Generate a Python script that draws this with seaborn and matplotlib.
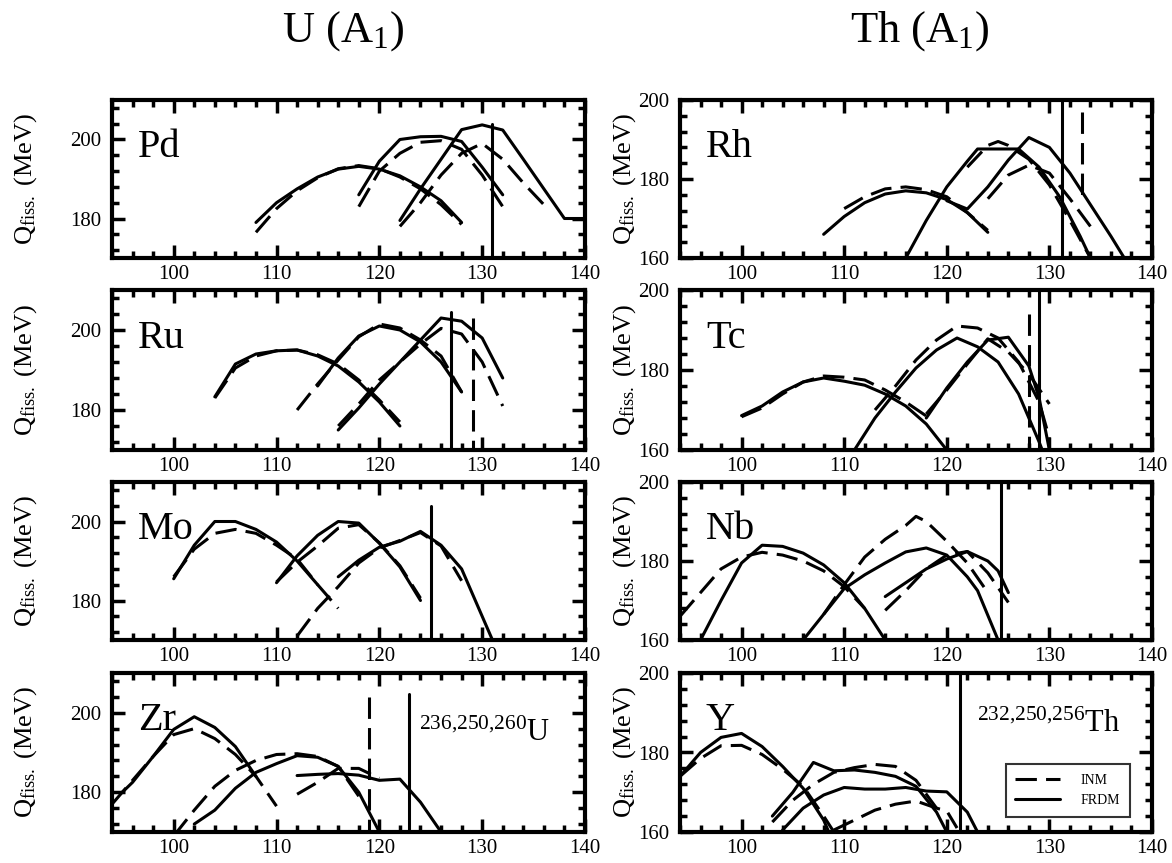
import matplotlib
matplotlib.use("Agg")
import matplotlib.pyplot as plt
from matplotlib.ticker import MultipleLocator
from matplotlib.lines import Line2D
import seaborn as sns
import pandas as pd

sns.set_style("ticks")
plt.rcParams["font.family"] = ["Liberation Serif", "DejaVu Serif"]
plt.rcParams["mathtext.fontset"] = "custom"
plt.rcParams["mathtext.rm"] = "Liberation Serif"
plt.rcParams["mathtext.it"] = "Liberation Serif:italic"
for key in ["text.color", "axes.edgecolor", "axes.labelcolor", "xtick.color", "ytick.color"]:
    plt.rcParams[key] = "black"

# -------------------------------
# DATA  (A_1, Q_fiss in MeV), three parent isotopes per panel
# -------------------------------

PD_INM = [
    [(108, 176.5), (110, 182.5), (112, 187), (114, 190.3), (116, 192.6), (118, 193.4),
     (120, 192.6), (122, 190.5), (124, 187.5), (126, 183.5), (128, 178.5)],
    [(118, 183), (120, 192), (122, 196.5), (124, 199.3), (126, 199.7), (128, 197.5),
     (130, 191), (132, 183)],
    [(122, 178), (124, 184), (126, 191), (128, 196.5), (130, 199), (132, 195),
     (134, 189), (136, 183.5)],
]
PD_FRDM = [
    [(108, 179), (110, 184), (112, 187.5), (114, 190.5), (116, 192.5), (118, 193.2),
     (120, 192.5), (122, 190.8), (124, 188), (126, 184.5), (128, 179)],
    [(118, 186), (120, 194.5), (122, 200), (124, 200.7), (126, 200.8), (128, 199.5),
     (130, 193), (132, 186)],
    [(122, 179.5), (124, 187.5), (126, 195), (128, 202.5), (130, 203.7), (132, 202.4),
     (134, 195), (136, 187.5), (138, 180), (140, 180)],
]
PD_VLINES = [(131, 204, 170, "FRDM")]

RH_INM = [
    [(110, 172.5), (112, 175.5), (114, 177.5), (116, 178), (118, 177.3), (120, 175.5),
     (122, 171.5), (124, 167)],
    [(122, 183), (124, 188.5), (125, 189.5), (126, 188.5), (128, 185), (130, 178.5),
     (132, 169.5), (134, 160)],
    [(124, 175), (126, 181), (128, 183.5), (130, 181.5), (132, 175), (134, 168)],
]
RH_FRDM = [
    [(108, 166), (110, 170.5), (112, 174), (114, 176.2), (116, 177), (118, 176.5),
     (120, 174.8), (122, 171.5), (124, 166.5)],
    [(116, 160), (118, 169.5), (120, 178), (122, 184.5), (123, 187.6), (127, 187.6),
     (129, 183), (131, 175.5), (133, 165.5), (134, 160)],
    [(120, 174.5), (122, 172.4), (124, 178), (126, 184.8), (128, 190.5), (130, 188),
     (132, 181.5), (134, 173.5), (136, 165.5), (137.3, 160)],
]
RH_VLINES = [(131.2, 200, 160, "FRDM"), (133.2, 197, 175, "INM")]

RU_INM = [
    [(104, 183), (106, 190.5), (108, 193.5), (110, 194.8), (112, 195), (114, 193.8),
     (116, 191.5), (118, 187.5), (120, 182.5), (122, 177)],
    [(112, 180), (114, 186.5), (116, 192.5), (118, 198.3), (120, 201.5), (122, 200.5),
     (124, 197.5), (126, 193.5), (128, 184.5)],
    [(116, 176), (118, 181.5), (120, 187.5), (122, 192), (124, 196.5), (126, 200.4),
     (128, 199), (130, 192), (132, 181)],
]
RU_FRDM = [
    [(104, 183.3), (106, 191.5), (108, 194), (110, 194.8), (112, 195), (114, 193.5),
     (116, 191), (118, 187), (120, 182), (122, 176)],
    [(114, 186), (116, 193), (118, 198.5), (120, 201), (122, 200), (124, 197),
     (126, 192), (128, 184.5)],
    [(116, 175), (118, 180.5), (120, 186.5), (122, 192), (124, 197.5), (126, 203),
     (128, 202.2), (130, 198), (132, 188)],
]
RU_VLINES = [(127, 204.5, 170, "FRDM"), (129.1, 203, 170, "INM")]

TC_INM = [
    [(100, 168.3), (102, 170.5), (104, 174), (106, 177), (108, 178.5), (110, 178.2),
     (112, 177.5), (114, 175), (116, 172), (118, 168.5)],
    [(113, 170), (115, 176), (117, 182.5), (119, 187.5), (121, 191), (123, 190.5),
     (125, 188), (127, 182), (129, 172), (130, 163)],
    [(118, 169), (120, 175), (122, 181.5), (124, 187.8), (126, 184.5), (128, 179),
     (130, 171.5)],
]
TC_FRDM = [
    [(100, 168.6), (102, 171), (104, 174.5), (106, 177), (108, 178), (110, 177.2),
     (112, 176.2), (114, 174), (116, 171), (118, 166.5), (120, 160)],
    [(111, 160), (113, 168), (115, 174.5), (117, 180.5), (119, 185), (121, 188),
     (123, 185.8), (125, 182), (127, 174), (129, 162), (129.3, 160)],
    [(118, 168), (120, 175.5), (122, 182), (124, 187.5), (126, 188.2), (128, 181),
     (129, 173), (130, 160)],
]
TC_VLINES = [(128, 194, 160, "INM"), (129, 200, 160, "FRDM")]

MO_INM = [
    [(100, 186), (102, 193), (104, 197), (106, 198), (108, 197), (110, 194),
     (112, 190.5), (114, 184), (116, 178)],
    [(110, 184.7), (112, 189.7), (114, 193.8), (116, 198.3), (118, 199.2), (120, 194.6),
     (122, 188.8), (124, 180.6)],
    [(112, 171), (114, 178), (116, 183.5), (118, 189.5), (120, 193.3), (122, 195.2),
     (124, 197.2), (126, 193.8), (128, 185)],
]
MO_FRDM = [
    [(100, 185.5), (102, 194), (104, 200), (106, 200), (108, 198), (110, 194.8),
     (112, 190), (114, 184)],
    [(110, 184.5), (112, 191.3), (114, 196.5), (116, 200), (118, 199.6), (120, 194.5),
     (122, 188.5), (124, 180)],
    [(116, 186), (118, 190.2), (120, 193.5), (122, 195), (124, 197.5), (126, 194),
     (128, 188), (130, 176), (131, 170)],
]
MO_VLINES = [(125, 204, 170, "FRDM")]

NB_INM = [
    [(94, 166), (96, 172), (98, 178), (100, 181), (102, 182.2), (104, 181.5),
     (106, 180), (108, 177.5), (110, 173.5), (112, 168)],
    [(108, 166.5), (110, 174), (112, 181), (114, 185.5), (116, 189), (117, 191.3),
     (118, 190), (120, 185), (122, 179.5), (124, 172)],
    [(114, 167.5), (116, 172.5), (118, 178), (120, 181.5), (122, 182.4), (124, 177),
     (126, 169.5)],
]
NB_FRDM = [
    [(96, 160), (98, 170), (100, 179.5), (102, 184), (104, 183.7), (106, 182),
     (108, 179), (110, 174.5), (112, 168), (114, 160)],
    [(106, 160), (108, 166.5), (110, 173), (112, 176.5), (114, 179.5), (116, 182.3),
     (118, 183.3), (120, 181.5), (122, 176), (123, 172.5), (125, 160)],
    [(114, 171), (116, 174.5), (118, 178), (120, 180.5), (122, 182.4), (124, 180),
     (125, 177.5), (126, 172)],
]
NB_VLINES = [(125.3, 200, 160, "FRDM")]

ZR_INM = [
    [(94, 177), (96, 183), (98, 189), (100, 194.5), (102, 196), (104, 193.5),
     (106, 189.5), (108, 184), (110, 176.5)],
    [(100, 169), (102, 175.5), (104, 181.5), (106, 185.5), (108, 188), (110, 189.5),
     (112, 189.7), (114, 189), (116, 186.5), (118, 179)],
    [(112, 179.5), (114, 182.5), (116, 186), (118, 186), (120, 183.5)],
]
ZR_FRDM = [
    [(95, 180), (96, 182.5), (98, 189), (100, 195.8), (102, 199), (104, 196.3),
     (106, 191.5), (108, 184)],
    [(102, 172), (104, 175.5), (106, 181), (108, 185), (110, 187.2), (112, 189.2),
     (114, 188.8), (116, 186.5), (118, 180), (120, 170)],
    [(112, 184.2), (114, 184.5), (116, 184.7), (118, 184.3), (120, 183), (122, 183.3),
     (124, 177.5), (126, 170)],
]
ZR_VLINES = [(119, 204, 170, "INM"), (122.9, 204.6, 170, "FRDM")]

Y_INM = [
    [(94, 174), (96, 178.5), (98, 181.7), (100, 181.8), (102, 179.5), (104, 175.8),
     (106, 171.5), (108, 164), (109, 160)],
    [(103, 162.5), (105, 168), (107, 172), (109, 175), (111, 176.2), (113, 177),
     (115, 176.5), (117, 173), (119, 166)],
    [(109, 160.5), (111, 163), (113, 165.5), (115, 167), (117, 167.8), (119, 166),
     (120, 165.3), (121, 161)],
]
Y_FRDM = [
    [(94, 174), (96, 180), (98, 183.8), (100, 184.8), (102, 181.5), (104, 176.5),
     (106, 171), (108, 163), (108.5, 160)],
    [(103, 164), (105, 170), (107, 177.5), (109, 175.4), (111, 175.6), (113, 175),
     (115, 174), (117, 171.5), (119, 165), (120, 160)],
    [(104, 160.5), (106, 166), (108, 169.3), (110, 171.2), (112, 170.8), (114, 170.8),
     (116, 171.2), (118, 170.3), (120, 170.1), (122, 165), (123, 160)],
]
Y_VLINES = [(121.3, 200, 160, "FRDM")]

U_YLIM = (170, 210)
TH_YLIM = (160, 200)
X_LIM = (94, 140)

# -------------------------------
# LAYOUT
# -------------------------------

W, H = 1172, 863
COL_X = [(112, 473), (680, 472)]
ROW_Y = [(100, 258), (290, 450), (482, 640), (673, 832)]

LW = 2.2
DASH = (7, 3)

fig = plt.figure(figsize=(W / 100, H / 100), dpi=100)


def make_df(inm, frdm):
    rows = []
    for model, curves in (("INM", inm), ("FRDM", frdm)):
        for k, pts in enumerate(curves):
            for a, q in pts:
                rows.append({"A": a, "Q": q, "model": model, "curve": f"{model}{k}"})
    return pd.DataFrame(rows)


def draw_panel(col, row, name, inm, frdm, vlines, ylim):
    left, width = COL_X[col]
    top, bottom = ROW_Y[row]
    ax = fig.add_axes([left / W, 1 - bottom / H, width / W, (bottom - top) / H])

    df = make_df(inm, frdm)
    sns.lineplot(data=df, x="A", y="Q", style="model", units="curve",
                 estimator=None, sort=False, color="k", lw=LW,
                 dashes={"INM": DASH, "FRDM": ""}, legend=False, ax=ax)

    for x, y0, y1, model in vlines:
        ls = (0, DASH) if model == "INM" else "-"
        ax.plot([x, x], [y0, y1], color="k", lw=LW, linestyle=ls)

    ax.set_xlim(*X_LIM)
    ax.set_ylim(*ylim)
    ax.xaxis.set_major_locator(MultipleLocator(10))
    ax.xaxis.set_minor_locator(MultipleLocator(2))
    ax.yaxis.set_major_locator(MultipleLocator(20))
    ax.yaxis.set_minor_locator(MultipleLocator(4))
    ax.tick_params(which="both", direction="in", top=True, right=True,
                   width=2.5, labelsize=15)
    ax.tick_params(which="major", length=9.5)
    ax.tick_params(which="minor", length=5)
    ax.tick_params(axis="x", pad=5)
    ax.tick_params(axis="y", pad=8)
    for sp in ax.spines.values():
        sp.set_linewidth(3)
        sp.set_visible(True)

    ax.set_xlabel("")
    ax.set_ylabel(r"Q$_{\rm fiss.}$ (MeV)", fontsize=19)
    ax.yaxis.set_label_coords(-0.155 if col == 0 else -0.088, 0.5)

    ax.text(0.055, 0.64, name, transform=ax.transAxes, fontsize=29,
            ha="left", va="baseline")
    return ax


draw_panel(0, 0, "Pd", PD_INM, PD_FRDM, PD_VLINES, U_YLIM)
draw_panel(0, 1, "Ru", RU_INM, RU_FRDM, RU_VLINES, U_YLIM)
draw_panel(0, 2, "Mo", MO_INM, MO_FRDM, MO_VLINES, U_YLIM)
ax_zr = draw_panel(0, 3, "Zr", ZR_INM, ZR_FRDM, ZR_VLINES, U_YLIM)

draw_panel(1, 0, "Rh", RH_INM, RH_FRDM, RH_VLINES, TH_YLIM)
draw_panel(1, 1, "Tc", TC_INM, TC_FRDM, TC_VLINES, TH_YLIM)
draw_panel(1, 2, "Nb", NB_INM, NB_FRDM, NB_VLINES, TH_YLIM)
ax_y = draw_panel(1, 3, "Y", Y_INM, Y_FRDM, Y_VLINES, TH_YLIM)

ax_zr.text(0.65, 0.57, r"$^{236{,}250{,}260}$U", transform=ax_zr.transAxes,
           fontsize=22, ha="left", va="baseline")
ax_y.text(0.63, 0.63, r"$^{232{,}250{,}256}$Th", transform=ax_y.transAxes,
          fontsize=22, ha="left", va="baseline")

handles = [
    Line2D([], [], color="k", lw=LW, linestyle=(0, DASH)),
    Line2D([], [], color="k", lw=LW, linestyle="-"),
]
leg = ax_y.legend(handles, ["INM", "FRDM"], loc="upper left",
                  bbox_to_anchor=(0.675, 0.47), fontsize=10, handlelength=3.2,
                  handletextpad=1.5, borderpad=0.7, labelspacing=0.5,
                  frameon=True, fancybox=False)
leg.get_frame().set_edgecolor("k")
leg.get_frame().set_linewidth(1.5)

fig.text(343 / W, 1 - 42 / H, r"U (A$_1$)", fontsize=32, ha="center", va="baseline")
fig.text(920 / W, 1 - 42 / H, r"Th (A$_1$)", fontsize=32, ha="center", va="baseline")

fig.savefig("out.png", dpi=100)
